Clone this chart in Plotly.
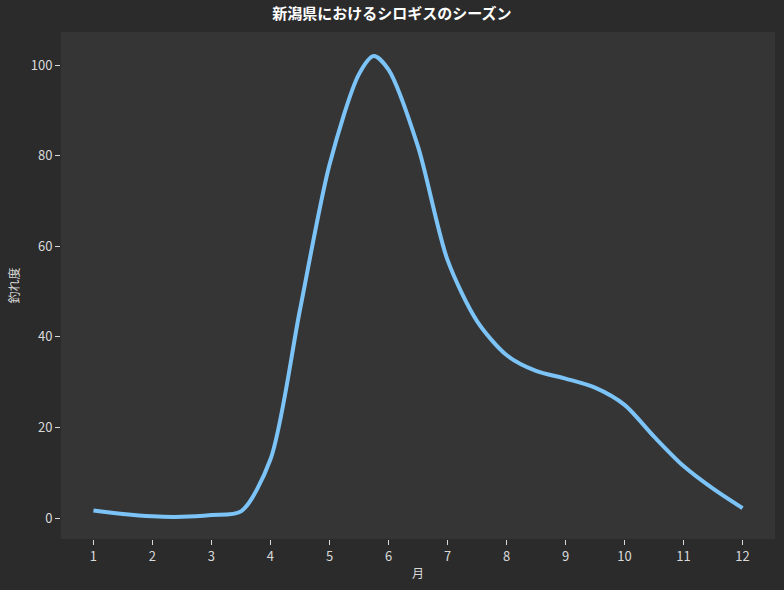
import plotly.graph_objects as go

# months (half-month steps) and catch index
months = [1, 1.5, 2, 2.5, 3, 3.5, 4, 4.5, 5, 5.5, 5.75, 6, 6.5, 7, 7.5,
          8, 8.5, 9, 9.5, 10, 10.5, 11, 11.5, 12]
catch = [1.7, 0.9, 0.4, 0.3, 0.7, 1.5, 13, 46, 78, 98, 102, 99, 82, 57, 43.5,
         36, 32.5, 30.8, 28.8, 25, 18, 11.5, 6.5, 2.2]

tick_months = list(range(1, 13))
y_ticks = [0, 20, 40, 60, 80, 100]

FONT = "Noto Sans CJK JP"
TEXT = "#d9d9d9"

fig = go.Figure(
    go.Scatter(
        x=months,
        y=catch,
        mode="lines",
        line=dict(color="#7cc4f8", width=4, shape="spline", smoothing=0.8),
        hoverinfo="x+y",
    )
)

fig.update_layout(
    width=784,
    height=590,
    paper_bgcolor="#2b2b2b",
    plot_bgcolor="#353535",
    margin=dict(l=61, r=9, t=32, b=51),
    font=dict(family=FONT, color=TEXT, size=13),
    title=dict(
        text="<b>新潟県におけるシロギスのシーズン</b>",
        x=0.5, xanchor="center", y=0.985, yanchor="top",
        font=dict(family=FONT, size=15, color="#ffffff"),
    ),
    showlegend=False,
    xaxis=dict(
        title=dict(text="月", font=dict(size=12), standoff=6),
        range=[0.45, 12.55],
        tickvals=tick_months,
        showgrid=False, zeroline=False,
        ticks="outside", ticklen=5, tickcolor=TEXT,
    ),
    yaxis=dict(
        title=dict(text="釣れ度", font=dict(size=12), standoff=8),
        range=[-4.6, 107.3],
        tickvals=y_ticks,
        showgrid=False, zeroline=False,
        ticks="outside", ticklen=5, tickcolor=TEXT,
    ),
)

# drop the page margin so the figure sits flush in the window
fig.write_html(
    "out.html",
    config={"displayModeBar": False},
    post_script="document.body.style.margin='0';document.body.style.background='#2b2b2b';",
)
